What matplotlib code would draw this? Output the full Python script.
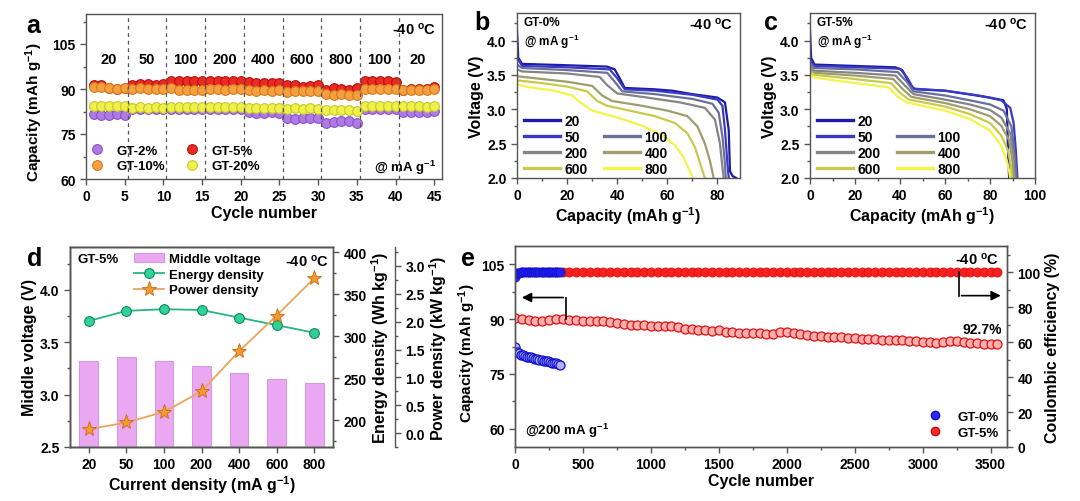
import numpy as np
import matplotlib
matplotlib.use("Agg")
import matplotlib.pyplot as plt
from matplotlib.lines import Line2D
from matplotlib.ticker import MultipleLocator, AutoMinorLocator, FormatStrFormatter

plt.rcParams['font.family'] = ['Liberation Sans', 'DejaVu Sans']
plt.rcParams['font.weight'] = 'bold'
plt.rcParams['axes.labelweight'] = 'bold'
plt.rcParams['mathtext.fontset'] = 'custom'
plt.rcParams['mathtext.rm'] = 'Liberation Sans:bold'
plt.rcParams['mathtext.bf'] = 'Liberation Sans:bold'
plt.rcParams['mathtext.default'] = 'rm'
plt.rcParams['axes.edgecolor'] = '#555555'
plt.rcParams['axes.linewidth'] = 1.0

# -----------------------
# panel a : rate performance
# -----------------------
cycles_a = np.arange(1, 46)
rate_labels_a = ['20', '50', '100', '200', '400', '600', '800', '100', '20']
gt2 = [81.8, 81.2, 81.4, 81.6, 81.5, 83.2, 83.3, 83.2, 83.3, 83.2,
       83.3, 83.4, 83.3, 83.4, 83.3, 83.4, 83.3, 83.4, 83.4, 83.5,
       82.2, 81.9, 82.1, 82.2, 82.0, 80.4, 80.1, 80.5, 80.3, 80.2,
       78.7, 78.9, 79.3, 79.5, 78.6, 83.3, 83.4, 83.3, 83.4, 83.4,
       82.4, 82.5, 82.3, 82.4, 82.6]
gt5 = [91.3, 91.2, 90.4, 90.1, 90.3, 91.5, 91.7, 91.6, 91.5, 91.8,
       92.7, 92.8, 92.6, 92.6, 92.7, 92.7, 92.6, 92.7, 92.6, 92.7,
       92.2, 92.1, 92.0, 92.0, 92.1, 91.3, 91.2, 90.6, 90.9, 91.5,
       89.8, 90.2, 90.1, 89.7, 90.2, 92.8, 92.7, 92.6, 92.6, 92.5,
       89.8, 89.9, 90.0, 90.1, 90.6]
gt10 = [90.7, 90.6, 90.2, 90.0, 90.3, 90.1, 90.2, 90.0, 90.1, 90.0,
        90.4, 89.7, 89.8, 89.7, 89.8, 89.9, 90.0, 89.8, 89.9, 90.0,
        89.7, 89.5, 89.6, 89.5, 89.6, 89.0, 89.3, 89.4, 89.2, 89.3,
        88.3, 88.0, 88.2, 87.9, 88.1, 90.0, 90.1, 90.0, 89.9, 90.0,
        89.8, 89.6, 89.8, 89.7, 90.0]
gt20 = [84.5, 84.4, 84.3, 84.4, 84.2, 83.8, 83.9, 83.8, 83.9, 83.8,
        84.0, 83.9, 84.0, 83.9, 84.0, 84.0, 84.1, 84.0, 84.1, 84.0,
        83.8, 83.7, 83.8, 83.7, 83.8, 83.5, 83.6, 83.5, 83.6, 83.5,
        83.0, 83.1, 82.9, 83.0, 82.8, 84.2, 84.3, 84.2, 84.3, 84.2,
        84.2, 84.3, 84.2, 84.1, 84.3]

# -----------------------
# panel b / c : discharge curves (capacity, voltage)
# -----------------------
rates_bc = ['20', '50', '100', '200', '400', '600', '800']
colors_bc = ['#1c1ca6', '#3a3ac4', '#6b6f9c', '#858585', '#9d9d6e', '#c9c94c', '#f3f34a']

b_cap = {
    '20': [0, 0.5, 2, 20, 36, 39, 41, 43, 55, 62, 70, 80, 83, 84.5, 85, 86, 87.5],
    '50': [0, 2, 20, 37, 40, 43, 55, 70, 80, 82, 83, 84, 84.5],
    '100': [0, 2, 20, 36, 39, 42, 55, 70, 78, 80.5, 82, 83, 83.3],
    '200': [0, 2, 20, 33, 36, 40, 50, 65, 75, 79, 81, 82, 82.5],
    '400': [0, 10, 20, 30, 34, 38, 50, 60, 68, 72, 75, 77, 78.2, 78.5],
    '600': [0, 10, 20, 28, 32, 36, 45, 55, 63, 68, 71, 73, 74.5, 75],
    '800': [0, 5, 15, 22, 26, 30, 40, 50, 58, 63, 66, 68, 69.5, 70.3],
}
b_volt = {
    '20': [4.15, 3.75, 3.66, 3.64, 3.62, 3.58, 3.45, 3.31, 3.29, 3.27, 3.22, 3.17, 3.10, 2.7, 2.1, 2.03, 2.0],
    '50': [3.75, 3.63, 3.61, 3.58, 3.45, 3.29, 3.27, 3.21, 3.14, 3.05, 2.7, 2.2, 2.0],
    '100': [3.65, 3.60, 3.57, 3.53, 3.40, 3.26, 3.22, 3.15, 3.08, 2.95, 2.6, 2.2, 2.0],
    '200': [3.58, 3.55, 3.52, 3.47, 3.35, 3.23, 3.18, 3.10, 3.02, 2.85, 2.5, 2.15, 2.0],
    '400': [3.48, 3.44, 3.40, 3.34, 3.20, 3.12, 3.05, 2.98, 2.90, 2.75, 2.50, 2.25, 2.05, 2.0],
    '600': [3.42, 3.38, 3.33, 3.26, 3.12, 3.05, 2.98, 2.90, 2.80, 2.65, 2.45, 2.22, 2.05, 2.0],
    '800': [3.36, 3.32, 3.27, 3.20, 3.08, 2.98, 2.88, 2.76, 2.62, 2.48, 2.33, 2.18, 2.06, 2.0],
}

c_cap = {
    '20': [0, 0.5, 2, 20, 38, 41, 43, 45, 47, 60, 70, 80, 86, 87.5, 88, 88.5],
    '50': [0, 2, 20, 40, 43, 46, 60, 75, 85, 89, 90.5, 91.5, 92.2],
    '100': [0, 2, 20, 39, 43, 46, 60, 71, 80, 86, 89.5, 91, 91.8],
    '200': [0, 2, 20, 38, 42, 46, 60, 71, 80, 85, 89, 90.5, 91],
    '400': [0, 2, 20, 37, 41, 45, 60, 71, 80, 85, 88.5, 90, 90.5],
    '600': [0, 2, 20, 36, 40, 44, 60, 71, 80, 85, 88, 89.2, 89.8],
    '800': [0, 2, 20, 35, 39, 43, 60, 71, 80, 85, 87.5, 88.5, 89],
}
c_volt = {
    '20': [4.15, 3.75, 3.65, 3.63, 3.61, 3.57, 3.45, 3.33, 3.29, 3.27, 3.22, 3.17, 3.13, 3.0, 2.4, 2.0],
    '50': [3.72, 3.63, 3.61, 3.59, 3.47, 3.30, 3.27, 3.20, 3.13, 3.02, 2.8, 2.4, 2.0],
    '100': [3.66, 3.60, 3.58, 3.54, 3.40, 3.26, 3.20, 3.13, 3.07, 2.98, 2.75, 2.35, 2.0],
    '200': [3.62, 3.56, 3.53, 3.49, 3.35, 3.22, 3.14, 3.07, 2.99, 2.88, 2.65, 2.3, 2.0],
    '400': [3.58, 3.53, 3.49, 3.44, 3.30, 3.18, 3.09, 3.00, 2.90, 2.76, 2.55, 2.25, 2.0],
    '600': [3.54, 3.50, 3.44, 3.38, 3.24, 3.14, 3.04, 2.93, 2.80, 2.62, 2.40, 2.2, 2.0],
    '800': [3.50, 3.46, 3.38, 3.32, 3.18, 3.10, 2.98, 2.86, 2.69, 2.47, 2.25, 2.1, 2.0],
}

# -----------------------
# panel d
# -----------------------
current_d = ['20', '50', '100', '200', '400', '600', '800']
middle_v = [3.32, 3.36, 3.32, 3.27, 3.21, 3.15, 3.11]
energy_d = [318, 330, 332, 331, 322, 313, 304]
power_d = [0.07, 0.19, 0.38, 0.75, 1.47, 2.11, 2.78]

# -----------------------
# panel e : long cycling
# -----------------------
cyc_red = np.arange(0, 3551, 50)
cap_red = [90.2, 90.0, 89.7, 89.6, 89.5, 89.7, 89.9, 90.0, 89.8, 89.7,
           89.6, 89.5, 89.4, 89.4, 89.1, 88.8, 88.6, 88.5, 88.4, 88.3,
           88.2, 88.1, 88.1, 88.0, 87.7, 87.4, 87.3, 87.1, 86.9, 86.8,
           86.9, 86.6, 86.4, 86.3, 86.3, 86.2, 86.1, 86.0, 85.9, 86.6,
           86.4, 86.1, 85.8, 85.6, 85.5, 85.3, 85.2, 85.1, 85.0, 84.9,
           84.8, 84.6, 84.5, 84.5, 84.4, 84.4, 84.3, 84.2, 84.0, 83.9,
           83.8, 83.6, 83.5, 83.6, 84.0, 83.9, 83.7, 83.5, 83.4, 83.3,
           83.3, 83.3]
ce_red = [99.6, 99.9, 100.0, 100.1, 100.0, 99.9, 100.0, 100.1, 100.0, 99.9,
          100.0, 100.1, 100.0, 100.0, 99.9, 100.0, 100.1, 100.0, 100.0, 99.9,
          100.0, 100.1, 100.0, 100.0, 99.9, 100.0, 100.0, 100.1, 100.0, 99.9,
          100.0, 100.0, 100.1, 100.0, 99.9, 100.0, 100.0, 100.1, 100.0, 100.0,
          99.9, 100.0, 100.1, 100.0, 100.0, 99.9, 100.0, 100.0, 100.1, 100.0,
          99.9, 100.0, 100.0, 100.1, 100.0, 100.0, 99.9, 100.0, 100.1, 100.0,
          100.0, 99.9, 100.0, 100.0, 100.1, 100.0, 99.9, 100.0, 100.0, 100.1,
          100.0, 100.0]
cyc_blue = np.arange(0, 331, 15)
cap_blue = [82.3, 81.0, 80.6, 80.3, 80.1, 79.9, 79.7, 79.6, 79.5, 79.3,
            79.1, 79.0, 78.9, 78.8, 78.6, 78.5, 78.4, 78.2, 78.1, 78.0,
            77.9, 77.7, 77.5]
ce_blue = [97.0, 99.4, 99.8, 99.9, 100.0, 99.9, 100.0, 100.0, 99.9, 100.0,
           100.0, 99.9, 100.0, 100.0, 99.9, 100.0, 100.0, 100.0, 99.9, 100.0,
           100.0, 100.0, 100.0]

W, H = 1080, 502
fig = plt.figure(figsize=(W / 100, H / 100), dpi=100)


def px_axes(l, r, t, b):
    return fig.add_axes([l / W, 1 - b / H, (r - l) / W, (b - t) / H])


def style(ax):
    ax.tick_params(which='both', direction='out', labelsize=10, width=1, colors='#555555',
                   labelcolor='black')
    ax.tick_params(which='major', length=4)
    ax.tick_params(which='minor', length=2)


def letter(x, y, s):
    fig.text(x / W, 1 - y / H, s, fontsize=18, fontweight='bold', va='baseline')


DEG = '-40 $^{\\rm o}$C'

# ---------- a ----------
ax = px_axes(86, 442, 15, 180)
style(ax)
sph = dict(ls='none', marker='o', ms=7, mew=0.8)
ax.plot(cycles_a, gt2, mfc='#b07ae6', mec='#8a52c8', label='GT-2%', **sph)
ax.plot(cycles_a, gt5, mfc='#ec2a22', mec='#b81010', label='GT-5%', **sph)
ax.plot(cycles_a, gt10, mfc='#f5a040', mec='#d8781a', label='GT-10%', **sph)
ax.plot(cycles_a, gt20, mfc='#f0f04a', mec='#c8c82a', label='GT-20%', **sph)
for k in range(1, 9):
    ax.axvline(5 * k + 0.4, color='#555555', ls=(0, (3, 3)), lw=0.9)
for k, lab in enumerate(rate_labels_a):
    ax.text(5 * k + 2.9, 100, lab, ha='center', va='center', fontsize=10.5)
ax.set_xlim(0, 46)
ax.set_ylim(60, 115)
ax.xaxis.set_major_locator(MultipleLocator(5))
ax.yaxis.set_major_locator(MultipleLocator(15))
ax.yaxis.set_minor_locator(AutoMinorLocator(2))
ax.set_xlabel('Cycle number', fontsize=11.5, labelpad=1)
ax.set_ylabel('Capacity (mAh g$^{-1}$)', fontsize=11, labelpad=1)
ax.yaxis.set_label_coords(-0.115, 0.41)
h, l = ax.get_legend_handles_labels()
ax.legend([h[0], h[2], h[1], h[3]], [l[0], l[2], l[1], l[3]], ncol=2, loc='lower left',
          frameon=False, fontsize=9.5, handletextpad=0.5, columnspacing=1.0,
          labelspacing=0.25, borderaxespad=0.1, bbox_to_anchor=(-0.025, 0.0))
ax.text(0.985, 0.96, DEG, transform=ax.transAxes, ha='right', va='top', fontsize=10.5)
ax.text(0.985, 0.02, '@ mA g$^{-1}$', transform=ax.transAxes, ha='right', va='bottom', fontsize=9.5)
letter(26, 33, 'a')


# ---------- b, c ----------
def discharge(ax, caps, volts, name, xmax, xticks):
    style(ax)
    handles = {}
    for r, c in zip(rates_bc, colors_bc):
        handles[r], = ax.plot(caps[r], volts[r], color=c, lw=1.6, label=r)
    blank = Line2D([], [], color='none')
    order = [handles['20'], handles['50'], handles['200'], handles['600'],
             blank, handles['100'], handles['400'], handles['800']]
    labs = ['20', '50', '200', '600', '', '100', '400', '800']
    leg = ax.legend(order, labs, ncol=2, loc='lower left', frameon=False, fontsize=10,
                    handlelength=2.6, handletextpad=0.3, columnspacing=1.2, labelspacing=0.15,
                    borderaxespad=0.1, bbox_to_anchor=(0.0, -0.03))
    for ln in leg.get_lines():
        ln.set_linewidth(2.4)
    ax.set_xlim(0, xmax)
    ax.set_ylim(2.0, 4.4)
    ax.set_xticks(xticks)
    ax.xaxis.set_minor_locator(AutoMinorLocator(2))
    ax.yaxis.set_major_locator(MultipleLocator(0.5))
    ax.yaxis.set_minor_locator(AutoMinorLocator(2))
    ax.yaxis.set_major_formatter(FormatStrFormatter('%.1f'))
    ax.set_xlabel('Capacity (mAh g$^{-1}$)', fontsize=11.5, labelpad=1)
    ax.set_ylabel('Voltage (V)', fontsize=11.5, labelpad=2)
    ax.text(0.03, 0.98, name + '\n@ mA g$^{-1}$', transform=ax.transAxes, ha='left', va='top',
            fontsize=8.5, linespacing=1.3)
    ax.text(0.97, 0.985, DEG, transform=ax.transAxes, ha='right', va='top', fontsize=10.5)


axb = px_axes(517, 740, 14, 179)
discharge(axb, b_cap, b_volt, 'GT-0%', 89, [0, 20, 40, 60, 80])
letter(474, 30, 'b')

axc = px_axes(810, 1035, 14, 179)
discharge(axc, c_cap, c_volt, 'GT-5%', 100, [0, 20, 40, 60, 80, 100])
letter(764, 30, 'c')

# ---------- d ----------
axd = px_axes(70, 333, 248, 448)
style(axd)
xd = np.arange(len(current_d))
bars = axd.bar(xd, middle_v, width=0.5, color='#eaa8f3', edgecolor='#d38ae2', lw=0.6,
               label='Middle voltage')
axd.set_xlim(-0.5, 6.5)
axd.set_ylim(2.5, 4.41)
axd.set_xticks(xd)
axd.set_xticklabels(current_d)
axd.yaxis.set_major_locator(MultipleLocator(0.5))
axd.yaxis.set_minor_locator(AutoMinorLocator(2))
axd.yaxis.set_major_formatter(FormatStrFormatter('%.1f'))
axd.set_xlabel('Current density (mA g$^{-1}$)', fontsize=11.5, labelpad=1)
axd.set_ylabel('Middle voltage (V)', fontsize=11.5, labelpad=2)

axe_en = axd.twinx()
style(axe_en)
ln_e, = axe_en.plot(xd, energy_d, color='#26b57e', lw=1.3, marker='o', ms=7,
                    mfc='#2fd39a', mec='#138457', mew=0.8, label='Energy density')
axe_en.set_ylim(168, 406)
axe_en.yaxis.set_major_locator(MultipleLocator(50))
axe_en.yaxis.set_minor_locator(AutoMinorLocator(2))
axe_en.set_ylabel('Energy density (Wh kg$^{-1}$)', fontsize=11.5, labelpad=2)

axp = axd.twinx()
style(axp)
axp.spines['right'].set_position(('axes', 1.236))
ln_p, = axp.plot(xd, power_d, color='#eda45a', lw=1.3, marker='*', ms=11,
                 mfc='#f39a32', mec='#c96a12', mew=0.6, label='Power density')
axp.set_ylim(-0.25, 3.34)
axp.yaxis.set_major_locator(MultipleLocator(0.5))
axp.yaxis.set_minor_locator(AutoMinorLocator(2))
axp.yaxis.set_major_formatter(FormatStrFormatter('%.1f'))
axp.set_ylabel('Power density (kW kg$^{-1}$)', fontsize=11.5, labelpad=2)
axp.legend([bars, ln_e, ln_p], ['Middle voltage', 'Energy density', 'Power density'],
           loc='upper left', bbox_to_anchor=(0.2, 1.03), frameon=False, fontsize=9.5,
           handlelength=2.2, labelspacing=0.25, handletextpad=0.4)
axd.text(0.03, 0.97, 'GT-5%', transform=axd.transAxes, ha='left', va='top', fontsize=9.5)
axd.text(0.985, 0.97, DEG, transform=axd.transAxes, ha='right', va='top', fontsize=10.5)
letter(27, 266, 'd')

# ---------- e ----------
axe = px_axes(515, 1007, 247, 448)
style(axe)
axce = axe.twinx()
style(axce)
axe.set_zorder(axce.get_zorder() + 1)
axe.patch.set_visible(False)

axce.plot(cyc_red, ce_red, ls='none', marker='o', ms=6.5, mfc='#f52020', mec='#e01010', mew=0.6)
axce.plot(cyc_blue, ce_blue, ls='none', marker='o', ms=6.5, mfc='#2020f0', mec='#1010d0', mew=0.6)
axe.plot(cyc_red, cap_red, ls='none', marker='o', ms=6.5, mfc='#ffb0b0', mec='#e01010', mew=0.9,
         label='GT-5%')
axe.plot(cyc_blue, cap_blue, ls='none', marker='o', ms=6.5, mfc='#b0b0ff', mec='#1010d0', mew=0.9,
         label='GT-0%')
axe.set_xlim(0, 3620)
axe.set_ylim(55, 110)
axce.set_ylim(0, 115)
axe.xaxis.set_major_locator(MultipleLocator(500))
axe.xaxis.set_minor_locator(AutoMinorLocator(2))
axe.yaxis.set_major_locator(MultipleLocator(15))
axe.yaxis.set_minor_locator(AutoMinorLocator(2))
axce.yaxis.set_major_locator(MultipleLocator(20))
axce.yaxis.set_minor_locator(AutoMinorLocator(2))
axe.set_xlabel('Cycle number', fontsize=11.5, labelpad=1)
axe.set_ylabel('Capacity (mAh g$^{-1}$)', fontsize=11, labelpad=0)
axe.yaxis.set_label_coords(-0.075, 0.47)
axce.set_ylabel('Coulombic efficiency (%)', fontsize=11.5, labelpad=3)

# arrows
axe.plot([376, 376], [90, 95.9], color='black', lw=1.2)
axe.annotate('', xy=(30, 95.9), xytext=(376, 95.9),
             arrowprops=dict(arrowstyle='-|>', color='black', lw=1.2, mutation_scale=14))
axce.plot([3265, 3265], [100, 86.6], color='black', lw=1.2)
axce.annotate('', xy=(3595, 86.6), xytext=(3265, 86.6),
              arrowprops=dict(arrowstyle='-|>', color='black', lw=1.2, mutation_scale=14))

blue_h = Line2D([], [], ls='none', marker='o', ms=6, mfc='#2a2aff', mec='#1010c0')
red_h = Line2D([], [], ls='none', marker='o', ms=6, mfc='#ff2a2a', mec='#c01010')
axe.legend([blue_h, red_h], ['GT-0%', 'GT-5%'], loc='lower right', frameon=False, fontsize=9.5,
           handlelength=1.0, handletextpad=1.2, labelspacing=0.3, borderaxespad=0.2)
axe.text(0.985, 0.975, DEG, transform=axe.transAxes, ha='right', va='top', fontsize=10.5)
axe.text(0.99, 0.55, '92.7%', transform=axe.transAxes, ha='right', va='bottom', fontsize=10)
axe.text(0.02, 0.04, '@200 mA g$^{-1}$', transform=axe.transAxes, ha='left', va='bottom', fontsize=9.5)
letter(461, 266, 'e')

fig.savefig('out.png', dpi=100)
